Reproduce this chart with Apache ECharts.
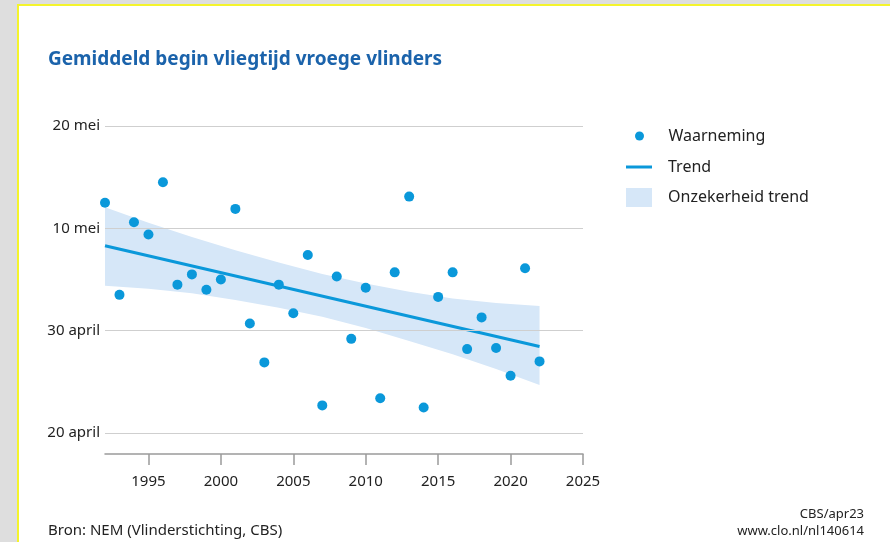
<!DOCTYPE html>
<html>
<head>
<meta charset="utf-8">
<script src="https://cdn.jsdelivr.net/npm/echarts@6/dist/echarts.min.js"></script>
<style>
  body { margin: 0; background: #dedede; }
  #frame { position: absolute; left: 17px; top: 4px; width: 873px; height: 538px;
           border-left: 2px solid #f4f42c; border-top: 2px solid #f4f42c; background: #fff; }
  #container { position: absolute; left: 0; top: 0; width: 890px; height: 542px; }
</style>
</head>
<body>
<div id="frame"></div>
<div id="container"></div>
<script>
// waarden in dagen na 20 april
var jaren = [1992,1993,1994,1995,1996,1997,1998,1999,2000,2001,2002,2003,2004,2005,2006,2007,
             2008,2009,2010,2011,2012,2013,2014,2015,2016,2017,2018,2019,2020,2021,2022];
var waarneming = [22.5,13.5,20.6,19.4,24.5,14.5,15.5,14.0,15.0,21.9,10.7,6.9,14.5,11.7,17.4,2.7,
                  15.3,9.2,14.2,3.4,15.7,23.1,2.5,13.3,15.7,8.2,11.3,8.3,5.6,16.1,7.0];
var trendJaren = [1992, 2022];
var trendWaarden = [18.3, 8.45];
var bandJaren = [1992,1995,1998,2001,2004,2007,2010,2013,2016,2019,2022];
var bandBoven = [22.06,20.55,19.15,17.85,16.65,15.55,14.6,13.8,13.15,12.7,12.41];
var bandOnder = [14.4,14.1,13.65,13.0,12.25,11.35,10.25,9.0,7.7,6.25,4.69];
var yTicks = [0, 10, 20, 30];
var yLabels = ['20 april', '30 april', '10 mei', '20 mei'];
var xTicks = [1995, 2000, 2005, 2010, 2015, 2020, 2025];

var blauw = '#0a98da';
var bandKleur = '#d6e7f8';
var font = 'Noto Sans';

var dom = document.getElementById('container');
var myChart = echarts.init(dom);

var punten = [];
for (var i = 0; i < jaren.length; i++) {
    punten.push([jaren[i], waarneming[i]]);
}
var trend = [];
for (var i = 0; i < trendJaren.length; i++) {
    trend.push([trendJaren[i], trendWaarden[i]]);
}
// onzekerheidsband: bovenrand heen, onderrand terug
var band = [];
for (var i = 0; i < bandJaren.length; i++) {
    band.push([bandJaren[i], bandBoven[i], bandOnder[i]]);
}
// rasterlijnen op de datums
var raster = [];
for (var i = 0; i < yTicks.length; i++) {
    raster.push({ yAxis: yTicks[i] });
}

function tekenBand(params, api) {
    if (params.dataIndex !== 0) return;
    var pts = [];
    for (var i = 0; i < band.length; i++) {
        pts.push(api.coord([band[i][0], band[i][1]]));
    }
    for (var i = band.length - 1; i >= 0; i--) {
        pts.push(api.coord([band[i][0], band[i][2]]));
    }
    return {
        type: 'polygon',
        shape: { points: pts },
        style: { fill: bandKleur }
    };
}

var legendBase = {
    orient: 'vertical',
    padding: 0,
    itemWidth: 26,
    textStyle: { fontFamily: font, fontSize: 16, color: '#222', padding: [0, 0, 0, 11] }
};

var option = {
    backgroundColor: 'transparent',
    animation: false,
    title: [
        { text: 'Gemiddeld begin vliegtijd vroege vlinders', left: 43, top: 45,
          textStyle: { fontFamily: font, fontSize: 19, fontWeight: 'bold', color: '#1b63ab' } },
        { text: 'Bron: NEM (Vlinderstichting, CBS)', left: 43, top: 518,
          textStyle: { fontFamily: font, fontSize: 15, fontWeight: 'normal', color: '#222' } },
        { text: 'CBS/apr23', right: 26, top: 508, padding: 0,
          textStyle: { fontFamily: font, fontSize: 13, fontWeight: 'normal', color: '#222' } },
        { text: 'www.clo.nl/nl140614', right: 26, top: 525, padding: 0,
          textStyle: { fontFamily: font, fontSize: 13, fontWeight: 'normal', color: '#222' } }
    ],
    legend: [
        echarts.util.extend({ left: 635, top: 128, itemHeight: 9,
            data: [{ name: 'Waarneming', icon: 'circle' }] }, legendBase),
        echarts.util.extend({ left: 626, top: 159, itemHeight: 3,
            data: [{ name: 'Trend', icon: 'rect' }] }, legendBase),
        echarts.util.extend({ left: 626, top: 188, itemHeight: 19,
            data: [{ name: 'Onzekerheid trend', icon: 'rect' }] }, legendBase)
    ],
    grid: { left: 105, right: 307, top: 126, bottom: 88 },
    xAxis: {
        type: 'value',
        min: 1992,
        max: 2025,
        axisLine: { show: true, onZero: false, lineStyle: { color: '#9a9a9a', width: 1.5 } },
        axisTick: { show: true, customValues: xTicks, length: 11,
            lineStyle: { color: '#9a9a9a', width: 1.5 } },
        axisLabel: { customValues: xTicks, margin: 20, fontFamily: font, fontSize: 15, color: '#222',
            formatter: function (v) { return String(v); } },
        splitLine: { show: false }
    },
    yAxis: {
        type: 'value',
        min: -2.05,
        max: 30,
        axisLine: { show: false },
        axisTick: { show: false },
        axisLabel: {
            customValues: yTicks,
            margin: 5, fontFamily: font, fontSize: 15, color: '#222',
            formatter: function (v) { return yLabels[yTicks.indexOf(v)]; }
        },
        splitLine: { show: false }
    },
    series: [
        {
            name: 'raster', type: 'line', data: [], z: 0, silent: true,
            markLine: {
                silent: true, symbol: ['none', 'none'], label: { show: false },
                lineStyle: { color: '#cfcfcf', width: 1.2, type: 'solid' },
                data: raster
            }
        },
        {
            name: 'Onzekerheid trend', type: 'custom', data: band,
            renderItem: tekenBand, silent: true,
            itemStyle: { color: bandKleur }, z: 1
        },
        {
            name: 'Trend', type: 'line', data: trend, symbol: 'none',
            itemStyle: { color: blauw },
            lineStyle: { color: blauw, width: 3 }, z: 2
        },
        {
            name: 'Waarneming', type: 'scatter', data: punten, symbolSize: 10,
            itemStyle: { color: blauw, opacity: 1 }, z: 3
        }
    ]
};
myChart.setOption(option, true);
</script>
</body>
</html>
